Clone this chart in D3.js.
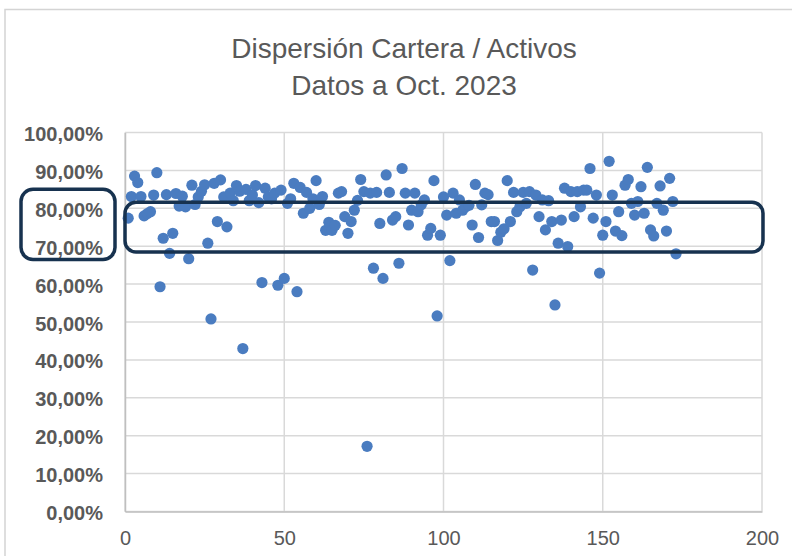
<!DOCTYPE html>
<html>
<head>
<meta charset="utf-8">
<script src="https://cdn.jsdelivr.net/npm/d3@7"></script>
<style>
  body { margin: 0; background: #fff; }
  .chart { width: 792px; height: 556px; }
</style>
</head>
<body>
<div class="chart"></div>
<script>
// title lines
var titleLines = ["Dispersión Cartera / Activos", "Datos a Oct. 2023"];

// x ticks and y ticks (fraction)
var xTicks = [0, 50, 100, 150, 200];
var yTicks = [0, 0.1, 0.2, 0.3, 0.4, 0.5, 0.6, 0.7, 0.8, 0.9, 1.0];

// highlighted band (fraction)
var bandRange = [0.685, 0.816];

// ratio cartera / activos, one per entity (index 1..173), in %
var ratios = [
  77.4, 83.1, 88.5, 86.8, 83.1, 78.0, 78.6, 79.1, 83.5, 89.4,
  59.3, 72.1, 83.6, 68.1, 73.4, 83.9, 80.6, 83.2, 80.4, 66.7,
  86.1, 81.0, 83.0, 84.5, 86.2, 70.8, 50.8, 86.6, 76.5, 87.5,
  83.0, 75.1, 84.0, 82.0, 86.0, 84.5, 43.0, 85.0, 82.0, 83.5,
  86.0, 81.5, 60.4, 85.3, 83.0, 82.5, 84.0, 59.7, 84.8, 61.5,
  81.3, 82.5, 86.6, 58.0, 85.5, 78.7, 84.2, 80.0, 82.5, 87.3,
  81.0, 83.1, 74.2, 76.3, 74.2, 75.5, 84.0, 84.4, 77.8, 73.4,
  76.5, 79.5, 82.1, 87.6, 84.4, 17.2, 84.0, 64.2, 84.2, 76.0,
  61.5, 88.8, 84.2, 76.9, 77.8, 65.5, 90.5, 84.0, 75.6, 79.5,
  84.0, 79.1, 80.9, 82.2, 72.9, 74.7, 87.3, 51.6, 72.9, 83.0,
  78.2, 66.2, 84.0, 78.7, 82.2, 79.5, 80.4, 80.8, 75.6, 86.3,
  72.3, 80.9, 84.0, 83.6, 76.5, 76.5, 71.5, 73.7, 74.6, 87.3,
  76.5, 84.2, 79.1, 80.4, 84.2, 81.3, 84.4, 63.7, 83.5, 77.8,
  82.2, 74.3, 82.0, 76.5, 54.5, 70.8, 76.9, 85.3, 69.9, 84.4,
  77.8, 84.4, 80.4, 84.8, 84.8, 90.5, 77.4, 83.5, 62.9, 72.9,
  76.5, 92.4, 83.5, 74.0, 79.1, 72.8, 86.1, 87.6, 81.3, 78.2,
  81.8, 85.7, 78.7, 90.8, 74.3, 72.7, 81.3, 85.9, 79.5, 74.0,
  87.9, 81.8, 68.0
];

var points = ratios.map(function(v, i) {
  return { x: i + 1, y: v / 100 };
});

var svgWidth = 792;
var svgHeight = 556;

var margin = { top: 132.5, left: 125, right: 30, bottom: 44.5 };
var width = svgWidth - margin.left - margin.right;
var height = svgHeight - margin.top - margin.bottom;

var svg = d3.select(".chart")
  .append("svg")
  .attr("width", svgWidth)
  .attr("height", svgHeight)
  .style("font-family", "'Liberation Sans', Arial, sans-serif");

// chart frame (runs off the right and bottom of the picture)
svg.append("rect")
  .attr("x", 5)
  .attr("y", 9.5)
  .attr("width", 820)
  .attr("height", 600)
  .attr("fill", "#fff")
  .attr("stroke", "#d4d4d4")
  .attr("stroke-width", 1.5);

// title
svg.append("g")
  .selectAll("text")
  .data(titleLines)
  .enter()
  .append("text")
  .attr("x", 404)
  .attr("y", (d, i) => 58 + i * 37)
  .attr("text-anchor", "middle")
  .attr("font-size", "28px")
  .attr("fill", "#595959")
  .text(d => d);

var chartGroup = svg.append("g")
  .attr("transform", `translate(${margin.left}, ${margin.top})`);

// scales
var xLinearScale = d3.scaleLinear()
  .domain([0, 200])
  .range([0, width]);

var yLinearScale = d3.scaleLinear()
  .domain([0, 1])
  .range([height, 0]);

// gridlines
chartGroup.append("g")
  .selectAll("line")
  .data(yTicks)
  .enter()
  .append("line")
  .attr("x1", 0)
  .attr("x2", width)
  .attr("y1", d => yLinearScale(d))
  .attr("y2", d => yLinearScale(d))
  .attr("stroke", "#d9d9d9")
  .attr("stroke-width", 1.5);

chartGroup.append("g")
  .selectAll("line")
  .data(xTicks)
  .enter()
  .append("line")
  .attr("x1", d => xLinearScale(d))
  .attr("x2", d => xLinearScale(d))
  .attr("y1", 0)
  .attr("y2", height)
  .attr("stroke", "#d9d9d9")
  .attr("stroke-width", 1.5);

// axes
var fmt = d => d3.format(".2f")(d * 100).replace(".", ",") + "%";

var xAxis = d3.axisBottom(xLinearScale).tickValues(xTicks).tickSize(0).tickPadding(19);
var yAxis = d3.axisLeft(yLinearScale).tickValues(yTicks).tickSize(0).tickPadding(22).tickFormat(fmt);

var xAxisG = chartGroup.append("g")
  .attr("transform", `translate(0, ${height})`)
  .call(xAxis);

var yAxisG = chartGroup.append("g")
  .call(yAxis);

xAxisG.select(".domain").attr("stroke", "#bfbfbf").attr("stroke-width", 1.5);
yAxisG.select(".domain").attr("stroke", "#bfbfbf").attr("stroke-width", 1.5);

xAxisG.selectAll("text")
  .attr("font-size", "20px")
  .attr("font-family", "'Liberation Sans', Arial, sans-serif")
  .attr("fill", "#595959");

yAxisG.selectAll("text")
  .attr("font-size", "20px")
  .attr("font-weight", "bold")
  .attr("font-family", "'Liberation Sans', Arial, sans-serif")
  .attr("fill", "#595959")
  .attr("dy", "0.4em");

// points
chartGroup.selectAll("circle")
  .data(points)
  .enter()
  .append("circle")
  .attr("cx", d => xLinearScale(d.x))
  .attr("cy", d => yLinearScale(d.y))
  .attr("r", 5.6)
  .attr("fill", "#4a7cc0");

// highlight boxes
chartGroup.append("rect")
  .attr("x", xLinearScale(0))
  .attr("y", yLinearScale(bandRange[1]))
  .attr("width", xLinearScale(200) - xLinearScale(0) + 1)
  .attr("height", yLinearScale(bandRange[0]) - yLinearScale(bandRange[1]))
  .attr("rx", 11)
  .attr("fill", "none")
  .attr("stroke", "#17324f")
  .attr("stroke-width", 3.5);

chartGroup.append("rect")
  .attr("x", 21 - margin.left)
  .attr("y", yLinearScale(0.85))
  .attr("width", 94)
  .attr("height", yLinearScale(0.665) - yLinearScale(0.85))
  .attr("rx", 12)
  .attr("fill", "none")
  .attr("stroke", "#17324f")
  .attr("stroke-width", 3.5);
</script>
</body>
</html>
